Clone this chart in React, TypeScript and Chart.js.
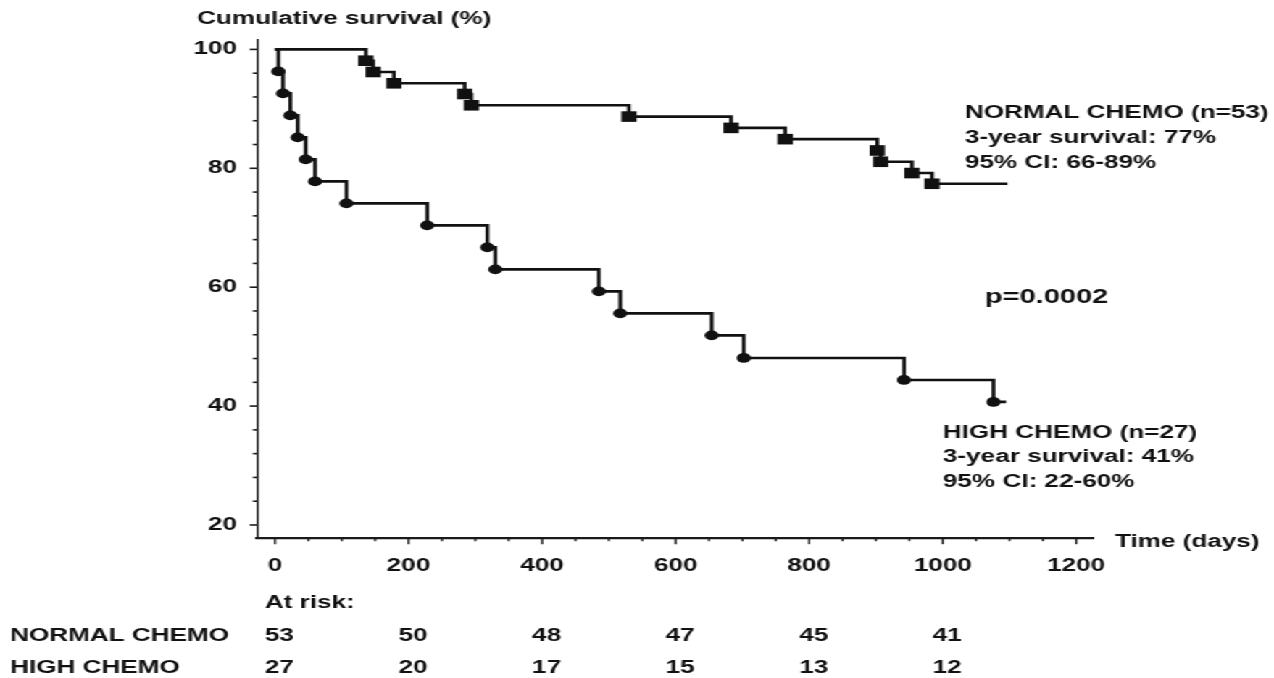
import React, { useEffect, useRef } from "react";
import { Chart, registerables } from "chart.js";

Chart.register(...registerables);

// ---- Data ----
const normalEventDays = [136, 147, 178, 284, 294, 530, 683, 764, 902, 907, 954, 984];
const normalSurvival = [98.1, 96.2, 94.3, 92.5, 90.6, 88.7, 86.8, 84.9, 83.0, 81.1, 79.2, 77.4];
const normalLastDay = 1097;

const highEventDays = [5, 12, 23, 34, 46, 60, 107, 228, 318, 330, 485, 517, 654, 702, 942, 1076];
const highSurvival = [96.3, 92.6, 88.9, 85.2, 81.5, 77.8, 74.1, 70.4, 66.7, 63.0, 59.3, 55.6, 51.9, 48.1, 44.4, 40.7];
const highLastDay = 1095;

const xMajorTicks = [0, 200, 400, 600, 800, 1000, 1200];
const yMajorTicks = [20, 40, 60, 80, 100];

const atRiskTimes = [0, 200, 400, 600, 800, 1000];
const atRiskNormal = [53, 50, 48, 47, 45, 41];
const atRiskHigh = [27, 20, 17, 15, 13, 12];

const normalLabel = ["NORMAL CHEMO (n=53)", "3-year survival: 77%", "95% CI: 66-89%"];
const highLabel = ["HIGH CHEMO (n=27)", "3-year survival: 41%", "95% CI: 22-60%"];
const pValueText = "p=0.0002";

// ---- Layout (logical canvas is stretched horizontally to the page width) ----
const PAGE_W = 1274;
const PAGE_H = 678;
const LOGICAL_W = 879;
const STRETCH = PAGE_W / LOGICAL_W;
const FONT = "'Liberation Sans', Arial, Helvetica, sans-serif";
const INK = "#111111";

function stepData(days: number[], surv: number[], last: number) {
  const pts = [{ x: 0, y: 100 }];
  days.forEach((d, i) => pts.push({ x: d, y: surv[i] }));
  pts.push({ x: last, y: surv[surv.length - 1] });
  return pts;
}
function markerData(days: number[], surv: number[]) {
  return days.map((d, i) => ({ x: d, y: surv[i] }));
}

const annotationPlugin = {
  id: "kmAnnotations",
  afterDraw(chart: any) {
    const ctx = chart.ctx as CanvasRenderingContext2D;
    const xs = chart.scales.x;
    const ys = chart.scales.y;
    ctx.save();
    ctx.strokeStyle = "#1a1a1a";
    // y-axis tick marks
    ctx.lineWidth = 1.6;
    ys.ticks.forEach((t: any) => {
      const major = yMajorTicks.includes(t.value);
      const py = ys.getPixelForValue(t.value);
      ctx.beginPath();
      ctx.moveTo(ys.right, py);
      ctx.lineTo(ys.right - (major ? 5 : 2.8), py);
      ctx.stroke();
    });
    // x-axis tick marks
    ctx.lineWidth = 1.4;
    xs.ticks.forEach((t: any) => {
      const major = xMajorTicks.includes(t.value);
      const px = xs.getPixelForValue(t.value);
      ctx.beginPath();
      ctx.moveTo(px, xs.top);
      ctx.lineTo(px, xs.top + (major ? 6.5 : 3.5));
      ctx.stroke();
    });

    const text = (s: string, x: number, y: number, size = 18) => {
      ctx.font = `bold ${size}px ${FONT}`;
      ctx.fillStyle = INK;
      ctx.textAlign = "left";
      ctx.textBaseline = "alphabetic";
      ctx.fillText(s, x, y);
    };

    text("Cumulative survival (%)", 135.9, 24);
    normalLabel.forEach((s, i) => text(s, 665.8, 118.3 + i * 24.6));
    highLabel.forEach((s, i) => text(s, 650.6, 437.5 + i * 24.5));
    text(pValueText, 679.6, 302.5, 20);
    text("Time (days)", 769.3, 546.5);

    text("At risk:", 182.8, 607.5);
    text("NORMAL CHEMO", 6.9, 640.5);
    text("HIGH CHEMO", 6.9, 672.5);
    atRiskTimes.forEach((t, i) => {
      const px = xs.getPixelForValue(t) - 6.9;
      text(String(atRiskNormal[i]), px, 640.5);
      text(String(atRiskHigh[i]), px, 672.5);
    });
    ctx.restore();
  },
};

export default function App() {
  const ref = useRef<HTMLCanvasElement | null>(null);

  useEffect(() => {
    if (!ref.current) return;
    const lineCommon = {
      stepped: "before" as const,
      borderColor: INK,
      borderWidth: 2.6,
      pointRadius: 0,
      fill: false,
      tension: 0,
    };
    const chart = new Chart(ref.current, {
      type: "line",
      data: {
        datasets: [
          { ...lineCommon, label: "NORMAL CHEMO", data: stepData(normalEventDays, normalSurvival, normalLastDay) },
          {
            label: "NORMAL events",
            data: markerData(normalEventDays, normalSurvival),
            showLine: false,
            pointStyle: "rect",
            pointRadius: 7.5,
            backgroundColor: INK,
            borderColor: INK,
            borderWidth: 0,
          },
          { ...lineCommon, label: "HIGH CHEMO", data: stepData(highEventDays, highSurvival, highLastDay) },
          {
            label: "HIGH events",
            data: markerData(highEventDays, highSurvival),
            showLine: false,
            pointStyle: "circle",
            pointRadius: 4.9,
            backgroundColor: INK,
            borderColor: INK,
            borderWidth: 0,
          },
        ] as any,
      },
      options: {
        responsive: false,
        devicePixelRatio: 1,
        animation: false,
        events: [],
        clip: false as any,
        layout: { padding: { left: 0, right: 124.9, top: 39.3, bottom: 0 } },
        plugins: { legend: { display: false }, tooltip: { enabled: false } },
        scales: {
          x: {
            type: "linear",
            min: -27,
            max: 1225,
            afterFit: (s: any) => {
              s.height = PAGE_H - 537.7;
            },
            afterBuildTicks: (s: any) => {
              const t: any[] = [];
              for (let v = 0; v <= 1200; v += 50) t.push({ value: v });
              s.ticks = t;
            },
            grid: { display: false, drawTicks: false },
            border: { display: true, color: "#1a1a1a", width: 2.2 },
            ticks: {
              autoSkip: false,
              maxRotation: 0,
              minRotation: 0,
              padding: 18,
              color: INK,
              font: { family: FONT, size: 18, weight: "bold" },
              callback: (v: any) => (xMajorTicks.includes(v) ? String(v) : ""),
            },
          },
          y: {
            type: "linear",
            min: 17.86,
            max: 101.7,
            afterFit: (s: any) => {
              s.width = 177.3;
            },
            afterBuildTicks: (s: any) => {
              const t: any[] = [];
              for (let v = 20; v <= 100; v += 4) t.push({ value: v });
              s.ticks = t;
            },
            grid: { display: false, drawTicks: false },
            border: { display: true, color: "#1a1a1a", width: 1.5 },
            ticks: {
              autoSkip: false,
              padding: 13.8,
              color: INK,
              font: { family: FONT, size: 18, weight: "bold" },
              callback: (v: any) => (yMajorTicks.includes(v) ? String(v) : ""),
            },
          },
        },
      } as any,
      plugins: [annotationPlugin],
    });
    return () => chart.destroy();
  }, []);

  return (
    <div
      style={{
        position: "fixed",
        left: 0,
        top: 0,
        width: LOGICAL_W,
        height: PAGE_H,
        background: "#ffffff",
        transform: `scaleX(${STRETCH})`,
        transformOrigin: "0 0",
      }}
    >
      <canvas
        ref={ref}
        width={LOGICAL_W}
        height={PAGE_H}
        style={{ display: "block", width: LOGICAL_W, height: PAGE_H }}
      />
    </div>
  );
}
